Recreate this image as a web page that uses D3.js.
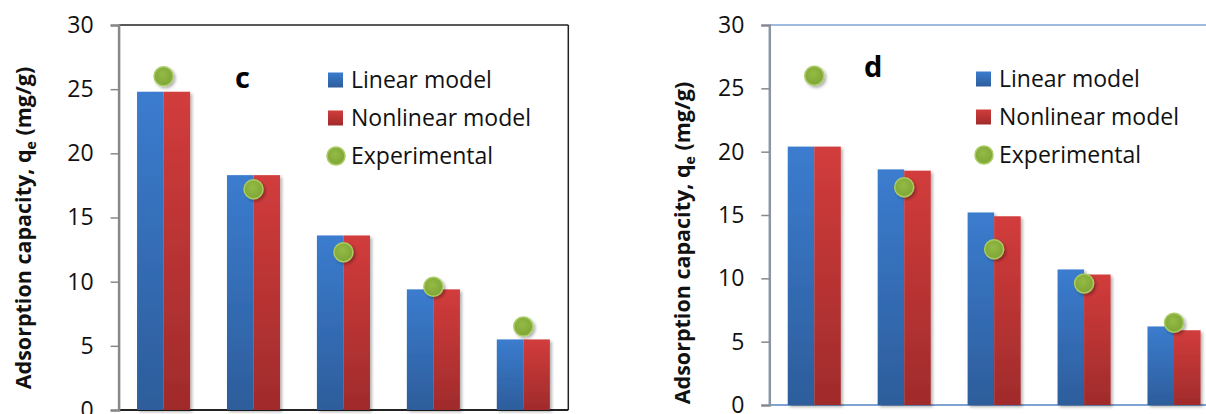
<!DOCTYPE html>
<html>
<head>
<meta charset="utf-8">
<script src="https://cdn.jsdelivr.net/npm/d3@7"></script>
<style>
    body { margin: 0; background: #fff; }
    svg { display: block; font-family: "Open Sans", sans-serif; }
</style>
</head>
<body>
<div id="chart"></div>
<script>
const categories = ["1", "2", "3", "4", "5"];
const seriesNames = ["Linear model", "Nonlinear model"];
const legendLabels = ["Linear model", "Nonlinear model", "Experimental"];
const yTicks = [0, 5, 10, 15, 20, 25, 30];

// panel c
const linearC = [24.8, 18.3, 13.6, 9.4, 5.5];
const nonlinearC = [24.8, 18.3, 13.6, 9.4, 5.5];
const experimentalC = [26.0, 17.2, 12.3, 9.6, 6.5];

// panel d
const linearD = [20.4, 18.6, 15.2, 10.7, 6.2];
const nonlinearD = [20.4, 18.5, 14.9, 10.3, 5.9];
const experimentalD = [26.0, 17.2, 12.3, 9.6, 6.5];

const svg = d3.select("#chart")
    .append("svg")
    .attr("width", 1206)
    .attr("height", 414);

const defs = svg.append("defs");

function vGradient(id, top, bottom) {
    const g = defs.append("linearGradient")
        .attr("id", id)
        .attr("x1", 0).attr("y1", 0)
        .attr("x2", 0).attr("y2", 1);
    g.append("stop").attr("offset", "0%").attr("stop-color", top);
    g.append("stop").attr("offset", "100%").attr("stop-color", bottom);
}
vGradient("grad-blue", "#3b7ccf", "#2d5d9b");
vGradient("grad-red", "#d23c3c", "#a02b2b");

const dotGrad = defs.append("radialGradient")
    .attr("id", "grad-green")
    .attr("cx", "45%").attr("cy", "40%").attr("r", "60%");
dotGrad.append("stop").attr("offset", "0%").attr("stop-color", "#93bb45");
dotGrad.append("stop").attr("offset", "100%").attr("stop-color", "#7fa535");

defs.append("filter")
    .attr("id", "shadow")
    .attr("x", "-30%").attr("y", "-30%")
    .attr("width", "170%").attr("height", "170%")
    .append("feDropShadow")
    .attr("dx", 2).attr("dy", 2)
    .attr("stdDeviation", 1.6)
    .attr("flood-color", "#000")
    .attr("flood-opacity", 0.3);

const fills = ["url(#grad-blue)", "url(#grad-red)"];

function drawPanel(p) {
    const x = d3.scaleBand()
        .domain(categories)
        .range([p.left, p.right])
        .paddingInner(0.41)
        .paddingOuter(0.205);

    const xSub = d3.scaleBand()
        .domain(seriesNames)
        .range([0, x.bandwidth()]);

    const y = d3.scaleLinear()
        .domain([0, 30])
        .range([p.bottom, p.top]);

    const g = svg.append("g");

    // frame
    g.append("line")
        .attr("x1", p.left).attr("x2", p.frameRight)
        .attr("y1", p.top).attr("y2", p.top)
        .attr("stroke", p.frameColor)
        .attr("stroke-width", 1.5);
    g.append("line")
        .attr("x1", p.left).attr("x2", p.frameRight)
        .attr("y1", p.bottom).attr("y2", p.bottom)
        .attr("stroke", p.frameColor)
        .attr("stroke-width", 2);
    if (p.frameRight < 1206) {
        g.append("line")
            .attr("x1", p.frameRight).attr("x2", p.frameRight)
            .attr("y1", p.top).attr("y2", p.bottom)
            .attr("stroke", p.frameColor)
            .attr("stroke-width", 1.5);
    }

    // bars
    const rows = categories.map((c, i) => ({ cat: c, values: [p.linear[i], p.nonlinear[i]] }));
    g.selectAll(".group")
        .data(rows)
        .enter()
        .append("g")
        .attr("transform", d => `translate(${x(d.cat)},0)`)
        .selectAll("rect")
        .data(d => d.values.map((v, j) => ({ name: seriesNames[j], value: v, j })))
        .enter()
        .append("rect")
        .attr("x", d => xSub(d.name))
        .attr("y", d => y(d.value))
        .attr("width", xSub.bandwidth())
        .attr("height", d => y(0) - y(d.value))
        .attr("fill", d => fills[d.j])
        .attr("filter", "url(#shadow)");

    // experimental points
    g.selectAll(".point")
        .data(p.experimental)
        .enter()
        .append("circle")
        .attr("cx", (d, i) => x(categories[i]) + x.bandwidth() / 2)
        .attr("cy", d => y(d))
        .attr("r", 9.5)
        .attr("fill", "url(#grad-green)")
        .attr("stroke", "#a8cb62")
        .attr("stroke-width", 1.5)
        .attr("filter", "url(#shadow)");

    // y axis
    const yAxis = g.append("g")
        .attr("transform", `translate(${p.left},0)`)
        .call(d3.axisLeft(y).tickValues(yTicks).tickSize(8).tickPadding(17));
    yAxis.select(".domain")
        .attr("stroke", p.axisColor)
        .attr("stroke-width", 2.5);
    yAxis.selectAll(".tick line")
        .attr("stroke", "#888")
        .attr("stroke-width", 1.5);
    yAxis.selectAll("text")
        .attr("fill", "#111")
        .style("font-size", "23px")
        .style("font-family", "'Open Sans', sans-serif");

    // axis title
    const title = g.append("text")
        .attr("transform", `translate(${p.titleX},${p.titleY}) rotate(-90)`)
        .attr("text-anchor", "middle")
        .attr("font-weight", "bold")
        .attr("font-size", 21.5)
        .attr("fill", "#111");
    title.append("tspan").text("Adsorption capacity, q");
    title.append("tspan").attr("dy", 5).attr("font-size", 14).text("e");
    title.append("tspan").attr("dy", -5).text(" (mg/g)");

    // panel letter
    g.append("text")
        .attr("x", p.labelX)
        .attr("y", p.labelY)
        .attr("font-weight", "bold")
        .attr("font-size", 29)
        .attr("fill", "#000")
        .text(p.label);

    // legend
    const legend = g.append("g")
        .attr("transform", `translate(${p.legendX},${p.legendY})`);
    const item = legend.selectAll(".item")
        .data(legendLabels)
        .enter()
        .append("g")
        .attr("transform", (d, i) => `translate(0,${i * 38})`);
    item.filter((d, i) => i < 2)
        .append("rect")
        .attr("x", 0).attr("y", -7.5)
        .attr("width", 15).attr("height", 15)
        .attr("fill", (d, i) => fills[i]);
    item.filter((d, i) => i === 2)
        .append("circle")
        .attr("cx", 8).attr("cy", 0)
        .attr("r", 9)
        .attr("fill", "url(#grad-green)")
        .attr("stroke", "#a8cb62")
        .attr("stroke-width", 1.5);
    item.append("text")
        .attr("x", 23)
        .attr("y", 8)
        .attr("font-size", 23)
        .attr("fill", "#111")
        .text(d => d);
}

drawPanel({
    label: "c", labelX: 235, labelY: 88,
    left: 118.6, right: 568.3, frameRight: 568.3,
    top: 25, bottom: 410,
    frameColor: "#222", axisColor: "#888",
    titleX: 31, titleY: 228,
    legendX: 328, legendY: 80,
    linear: linearC, nonlinear: nonlinearC, experimental: experimentalC
});

drawPanel({
    label: "d", labelX: 864, labelY: 77,
    left: 769.3, right: 1219, frameRight: 1206,
    top: 25, bottom: 405,
    frameColor: "#7ea3d3", axisColor: "#8a96a6",
    titleX: 690, titleY: 243,
    legendX: 976, legendY: 79,
    linear: linearD, nonlinear: nonlinearD, experimental: experimentalD
});
</script>
</body>
</html>
